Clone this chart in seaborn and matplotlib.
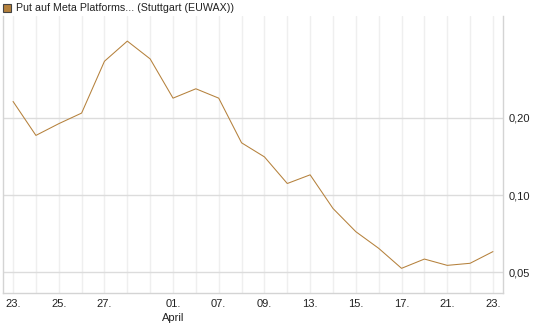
import matplotlib
matplotlib.use("Agg")
import matplotlib.pyplot as plt
import matplotlib.ticker as mticker
from matplotlib.patches import Rectangle
import numpy as np
import pandas as pd
import seaborn as sns

# trading days, 23 March .. 23 April
day_labels = ['23.', '24.', '25.', '26.', '27.', '30.', '31.', '01.', '02.', '07.', '08.',
              '09.', '10.', '13.', '14.', '15.', '16.', '17.', '20.', '21.', '22.', '23.']
prices = [0.232, 0.171, 0.190, 0.209, 0.333, 0.399, 0.340, 0.239, 0.260, 0.239, 0.160,
          0.141, 0.111, 0.120, 0.0887, 0.072, 0.062, 0.0518, 0.0563, 0.0532, 0.0542, 0.0602]
shown_ticks = [0, 2, 4, 7, 9, 11, 13, 15, 17, 19, 21]
y_ticks = [0.05, 0.10, 0.20]

LINE = '#b5813c'
GRID_V = '#efefef'
GRID_H = '#dcdcdc'

sns.set_theme(style='white')
plt.rcParams['font.family'] = ['Liberation Sans', 'DejaVu Sans']

df = pd.DataFrame({'idx': np.arange(len(prices)), 'price': prices})

fig = plt.figure(figsize=(5.45, 3.27), dpi=100)
ax = fig.add_axes([3 / 545, 34 / 327, 500 / 545, 277 / 327])

sns.lineplot(data=df, x='idx', y='price', ax=ax, color=LINE, linewidth=0.75)

ax.set_yscale('log')
ax.set_ylim(0.0415, 0.50)
ax.set_xlim(-0.44, 21.44)

# vertical grid at every trading day
ax.set_xticks(df['idx'], minor=True)
ax.grid(True, which='minor', axis='x', color=GRID_V, linewidth=1)
ax.set_xticks(shown_ticks)
labels = [day_labels[i] + ('\nApril' if i == 7 else '') for i in shown_ticks]
ax.set_xticklabels(labels, fontsize=8, color='#222222', linespacing=1.5, va='top')
ax.tick_params(axis='x', which='both', length=0, pad=4)
ax.grid(True, which='major', axis='x', color=GRID_V, linewidth=1)

ax.yaxis.set_major_locator(mticker.FixedLocator(y_ticks))
ax.yaxis.set_minor_locator(mticker.NullLocator())
ax.yaxis.set_major_formatter(mticker.FuncFormatter(lambda v, p: f'{v:.2f}'.replace('.', ',')))
ax.yaxis.tick_right()
ax.tick_params(axis='y', length=0, pad=4, labelsize=8, labelcolor='#222222')
ax.grid(True, which='major', axis='y', color=GRID_H, linewidth=1)

ax.set_xlabel('')
ax.set_ylabel('')
for side in ['left', 'bottom', 'right']:
    ax.spines[side].set_color('#d4d4d4')
    ax.spines[side].set_linewidth(1)
ax.spines['top'].set_visible(False)

# legend-like header
fig.patches.append(Rectangle((3 / 545, 1 - 12 / 327), 8 / 545, 8 / 327, transform=fig.transFigure,
                             facecolor=LINE, edgecolor='#444444', linewidth=0.8))
fig.text(16 / 545, 1 - 8 / 327, 'Put auf Meta Platforms... (Stuttgart (EUWAX))',
         fontsize=7.7, color='#222222', va='center', ha='left')

fig.savefig('out.png', dpi=100)
